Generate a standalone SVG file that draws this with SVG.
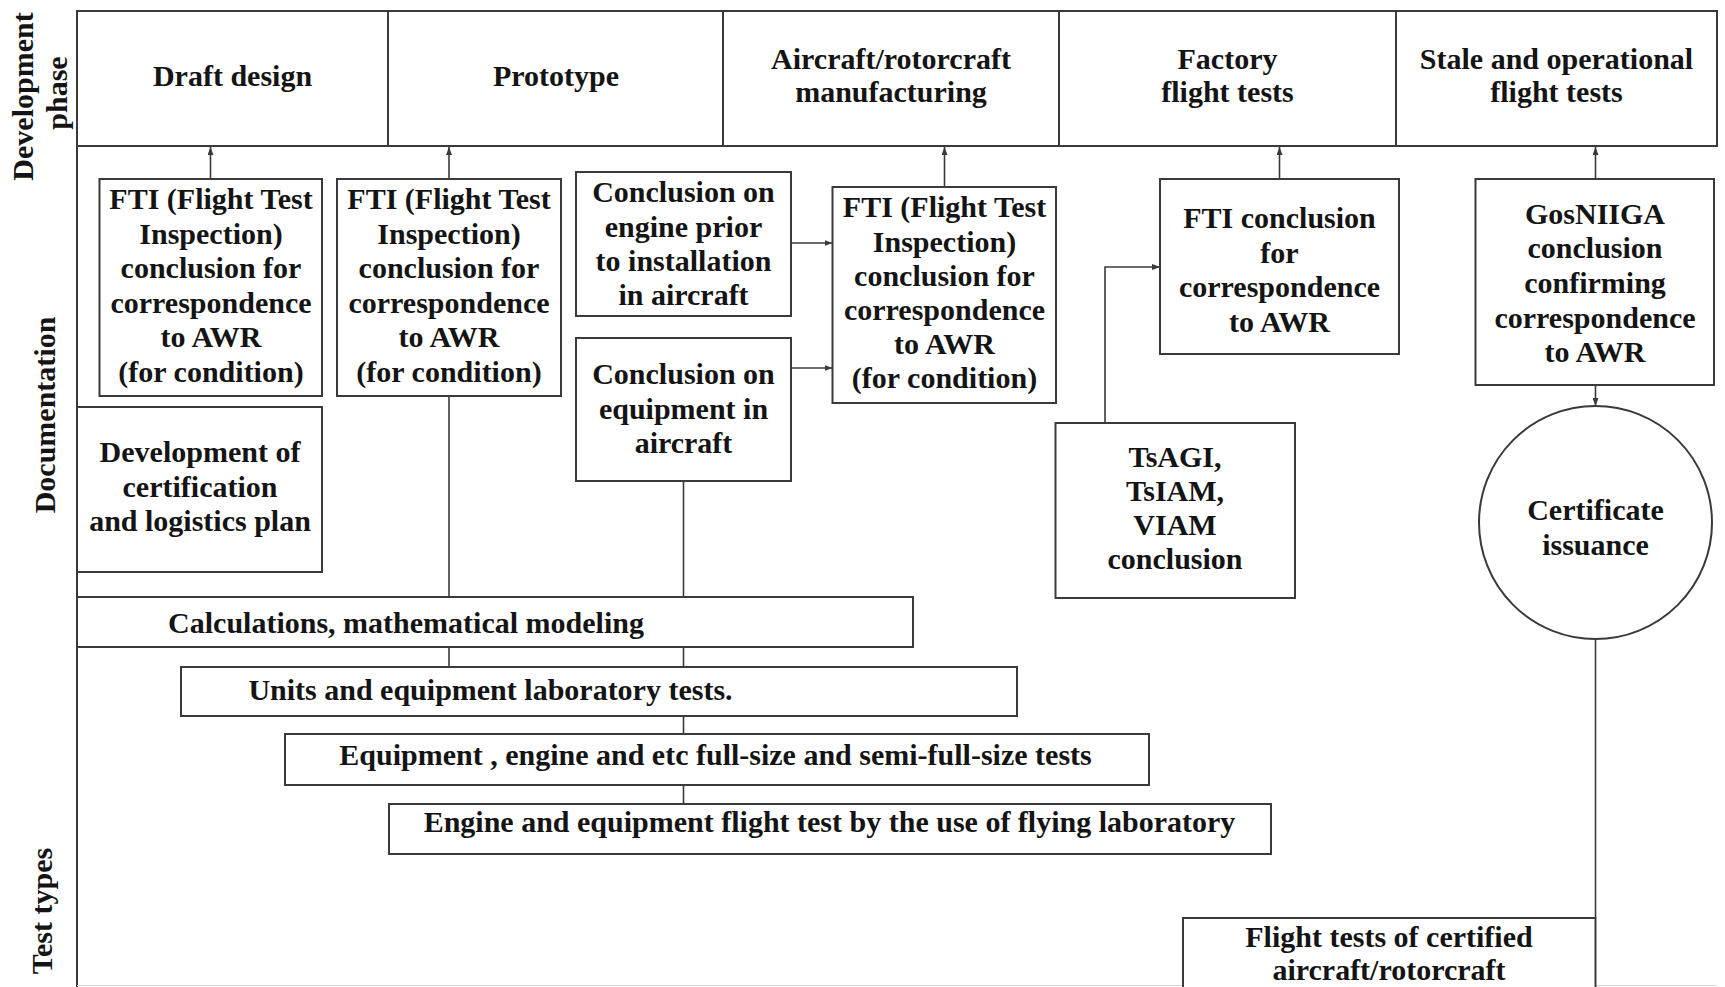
<svg xmlns="http://www.w3.org/2000/svg" width="1725" height="987" viewBox="0 0 1725 987">
<style>
.box{fill:#fff;stroke:#3a3a3a;stroke-width:2}
.fr{fill:none;stroke:#3a3a3a;stroke-width:2}
.t{font-family:"Liberation Serif","Times New Roman",serif;font-weight:bold;font-size:30px;fill:#141414;text-anchor:middle}
.c{fill:none;stroke:#3a3a3a;stroke-width:1.6}
.a{marker-end:url(#ah)}
</style>
<defs>
<marker id="ah" viewBox="0 0 8 6" refX="8" refY="3" markerWidth="8" markerHeight="6" markerUnits="userSpaceOnUse" orient="auto">
<path d="M0,0L8,3L0,6z" fill="#3a3a3a"/>
</marker>
</defs>
<rect width="1725" height="987" fill="#fff"/>

<g id="frame">
<rect class="fr" x="77" y="11" width="1640" height="135"/>
<line class="fr" x1="388" y1="11" x2="388" y2="146"/>
<line class="fr" x1="723" y1="11" x2="723" y2="146"/>
<line class="fr" x1="1059" y1="11" x2="1059" y2="146"/>
<line class="fr" x1="1396" y1="11" x2="1396" y2="146"/>
<line class="fr" x1="77" y1="146" x2="77" y2="987"/>
<line x1="77" y1="985.5" x2="1717" y2="985.5" stroke="#d6d6d6" stroke-width="1"/>
</g>

<g id="row-labels">
<text class="t" transform="translate(33,96.5) rotate(-90)">Development</text>
<text class="t" transform="translate(67,93) rotate(-90)">phase</text>
<text class="t" transform="translate(55,415) rotate(-90)">Documentation</text>
<text class="t" transform="translate(52,911) rotate(-90)">Test types</text>
</g>

<g id="phases">
<g id="phase-draft"><text class="t" x="232.5" y="86">Draft design</text></g>
<g id="phase-prototype"><text class="t" x="556" y="86">Prototype</text></g>
<g id="phase-manufacturing"><text class="t" x="891" y="69">Aircraft/rotorcraft</text><text class="t" x="891" y="102">manufacturing</text></g>
<g id="phase-factory"><text class="t" x="1227.5" y="69">Factory</text><text class="t" x="1227.5" y="102">flight tests</text></g>
<g id="phase-stale"><text class="t" x="1556.5" y="69">Stale and operational</text><text class="t" x="1556.5" y="102">flight tests</text></g>
</g>

<g id="connectors">
<line class="c a" x1="210.5" y1="179" x2="210.5" y2="147"/>
<line class="c a" x1="449" y1="179" x2="449" y2="147"/>
<line class="c a" x1="944.5" y1="187" x2="944.5" y2="147"/>
<line class="c a" x1="1279.5" y1="179" x2="1279.5" y2="147"/>
<line class="c a" x1="1595.5" y1="179" x2="1595.5" y2="147"/>
<line class="c a" x1="791" y1="243" x2="832.5" y2="243"/>
<line class="c a" x1="791" y1="368" x2="832.5" y2="368"/>
<polyline class="c a" points="1105,423 1105,267 1160,267"/>
<line class="c a" x1="1595.5" y1="385" x2="1595.5" y2="406"/>
<line class="c" x1="1595.5" y1="639" x2="1595.5" y2="918"/>
<line class="c" x1="449" y1="396" x2="449" y2="597"/>
<line class="c" x1="683.5" y1="481" x2="683.5" y2="597"/>
<line class="c" x1="449" y1="647" x2="449" y2="667"/>
<line class="c" x1="683.5" y1="647" x2="683.5" y2="667"/>
<line class="c" x1="683.5" y1="716" x2="683.5" y2="734"/>
<line class="c" x1="683.5" y1="785" x2="683.5" y2="804"/>
</g>

<g id="fti-draft">
<rect class="box" x="99.5" y="179" width="222.5" height="217"/>
<text class="t" x="211" y="209">FTI (Flight Test</text>
<text class="t" x="211" y="243.5">Inspection)</text>
<text class="t" x="211" y="278">conclusion for</text>
<text class="t" x="211" y="312.5">correspondence</text>
<text class="t" x="211" y="347">to AWR</text>
<text class="t" x="211" y="381.5">(for condition)</text>
</g>

<g id="fti-prototype">
<rect class="box" x="337" y="179" width="224" height="217"/>
<text class="t" x="449" y="209">FTI (Flight Test</text>
<text class="t" x="449" y="243.5">Inspection)</text>
<text class="t" x="449" y="278">conclusion for</text>
<text class="t" x="449" y="312.5">correspondence</text>
<text class="t" x="449" y="347">to AWR</text>
<text class="t" x="449" y="381.5">(for condition)</text>
</g>

<g id="engine-conclusion">
<rect class="box" x="576" y="172" width="215" height="144"/>
<text class="t" x="683.5" y="202">Conclusion on</text>
<text class="t" x="683.5" y="236.5">engine prior</text>
<text class="t" x="683.5" y="271">to installation</text>
<text class="t" x="683.5" y="305">in aircraft</text>
</g>

<g id="equipment-conclusion">
<rect class="box" x="576" y="338" width="215" height="143"/>
<text class="t" x="683.5" y="384">Conclusion on</text>
<text class="t" x="683.5" y="418.5">equipment in</text>
<text class="t" x="683.5" y="453">aircraft</text>
</g>

<g id="fti-manufacturing">
<rect class="box" x="832.5" y="187" width="223.5" height="216"/>
<text class="t" x="944.5" y="217">FTI (Flight Test</text>
<text class="t" x="944.5" y="251.5">Inspection)</text>
<text class="t" x="944.5" y="285.5">conclusion for</text>
<text class="t" x="944.5" y="320">correspondence</text>
<text class="t" x="944.5" y="354">to AWR</text>
<text class="t" x="944.5" y="388">(for condition)</text>
</g>

<g id="fti-factory">
<rect class="box" x="1160" y="179" width="239" height="175"/>
<text class="t" x="1279.5" y="228">FTI conclusion</text>
<text class="t" x="1279.5" y="263">for</text>
<text class="t" x="1279.5" y="297">correspondence</text>
<text class="t" x="1279.5" y="332">to AWR</text>
</g>

<g id="tsagi">
<rect class="box" x="1055.5" y="423" width="239.5" height="175"/>
<text class="t" x="1175" y="467">TsAGI,</text>
<text class="t" x="1175" y="501">TsIAM,</text>
<text class="t" x="1175" y="535">VIAM</text>
<text class="t" x="1175" y="569">conclusion</text>
</g>

<g id="gosniiga">
<rect class="box" x="1475.5" y="179" width="238.5" height="206"/>
<text class="t" x="1595" y="224">GosNIIGA</text>
<text class="t" x="1595" y="258">conclusion</text>
<text class="t" x="1595" y="293">confirming</text>
<text class="t" x="1595" y="328">correspondence</text>
<text class="t" x="1595" y="362">to AWR</text>
</g>

<g id="certificate">
<ellipse class="box" cx="1595.5" cy="522.5" rx="116.5" ry="116.5" stroke-width="1.6"/>
<text class="t" x="1595.5" y="520">Certificate</text>
<text class="t" x="1595.5" y="555">issuance</text>
</g>

<g id="logistics-plan">
<rect class="box" x="77" y="407" width="245" height="165"/>
<text class="t" x="200" y="462">Development of</text>
<text class="t" x="200" y="497">certification</text>
<text class="t" x="200" y="531">and logistics plan</text>
</g>

<g id="calculations">
<rect class="box" x="77" y="597" width="836" height="50"/>
<text class="t" x="406" y="633">Calculations, mathematical modeling</text>
</g>

<g id="lab-tests">
<rect class="box" x="181" y="667" width="836" height="49"/>
<text class="t" x="490.5" y="700">Units and equipment laboratory tests.</text>
</g>

<g id="full-size-tests">
<rect class="box" x="285" y="734" width="864" height="51"/>
<text class="t" x="715.5" y="765">Equipment , engine and etc full-size and semi-full-size tests</text>
</g>

<g id="flying-lab">
<rect class="box" x="389" y="804" width="882" height="50"/>
<text class="t" x="829.5" y="832">Engine and equipment flight test by the use of flying laboratory</text>
</g>

<g id="certified-flight-tests">
<rect class="box" x="1183" y="918" width="412.5" height="80"/>
<text class="t" x="1389" y="947">Flight tests of certified</text>
<text class="t" x="1389" y="980">aircraft/rotorcraft</text>
</g>
</svg>
